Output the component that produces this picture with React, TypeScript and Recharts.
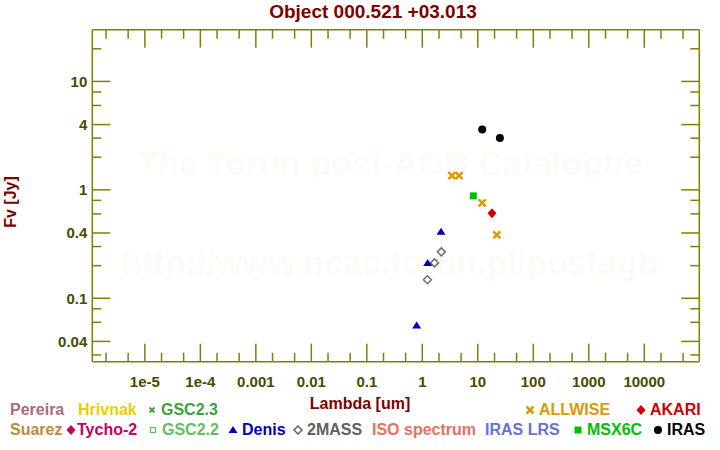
import { ScatterChart, Scatter, XAxis, YAxis } from "recharts"

if (typeof document !== "undefined") document.body.style.margin = "0"

// photometry, lambda in um, flux in Jy
const irasLambda = [12, 25]
const irasFlux = [3.6, 3.0]
const allwiseLambda = [3.4, 4.6, 12, 22]
const allwiseFlux = [1.35, 1.35, 0.76, 0.385]
const msxLambda = [8.3]
const msxFlux = [0.88]
const akariLambda = [18]
const akariFlux = [0.61]
const denisLambda = [0.79, 1.25, 2.17]
const denisFlux = [0.056, 0.212, 0.41]
const twomassLambda = [1.235, 1.66, 2.2]
const twomassFlux = [0.148, 0.212, 0.268]

const xMajor = [1e-5, 1e-4, 0.001, 0.01, 0.1, 1, 10, 100, 1000, 10000]
const xLabels = ["1e-5", "1e-4", "0.001", "0.01", "0.1", "1", "10", "100", "1000", "10000"]
const xMinor = [2e-6, 5e-6, 2e-5, 5e-5, 2e-4, 5e-4, 0.002, 0.005, 0.02, 0.05, 0.2, 0.5, 2, 5, 20, 50, 200, 500, 2000, 5000, 20000, 50000]
const yMajor = [0.04, 0.1, 0.4, 1, 4, 10]
const yLabels = ["0.04", "0.1", "0.4", "1", "4", "10"]
const yMinor = [0.03, 0.06, 0.08, 0.2, 0.3, 0.6, 0.8, 2, 3, 6, 8, 20]

const X_DOMAIN = [1.13e-6, 9.8e4]
const Y_DOMAIN = [0.026, 30]

const OLIVE = "#808000"
const TICK_TEXT = "#4a4a00"
const DARK_RED = "#800000"
const FONT = "'Liberation Sans', Arial, sans-serif"

const zip = (xs: number[], ys: number[]) => xs.map((x, i) => ({ x, y: ys[i] }))

const labelFor = (v: number, majors: number[], labels: string[]) => {
  const i = majors.findIndex((m) => Math.abs(Math.log10(m) - Math.log10(v)) < 1e-6)
  return i >= 0 ? labels[i] : null
}

const makeTick = (side: "bottom" | "top" | "left" | "right") => (props: any) => {
  const { x, y, payload } = props
  const horiz = side === "bottom" || side === "top"
  const label = horiz ? labelFor(payload.value, xMajor, xLabels) : labelFor(payload.value, yMajor, yLabels)
  const len = label ? 18 : 9
  let x2 = x
  let y2 = y
  if (side === "bottom") y2 = y - len
  if (side === "top") y2 = y + len
  if (side === "left") x2 = x + len
  if (side === "right") x2 = x - len
  return (
    <g>
      <line x1={x} y1={y} x2={x2} y2={y2} stroke={OLIVE} strokeWidth={1.5} />
      {label && side === "bottom" && (
        <text x={x} y={y + 25} textAnchor="middle" fill={TICK_TEXT} fontSize={15} fontWeight="bold" fontFamily={FONT}>
          {label}
        </text>
      )}
      {label && side === "left" && (
        <text x={x - 5} y={y + 5.5} textAnchor="end" fill={TICK_TEXT} fontSize={15} fontWeight="bold" fontFamily={FONT}>
          {label}
        </text>
      )}
    </g>
  )
}

const Cross = ({ cx, cy, fill }: any) => (
  <g stroke={fill} strokeWidth={2.5}>
    <line x1={cx - 3.5} y1={cy - 3.5} x2={cx + 3.5} y2={cy + 3.5} />
    <line x1={cx - 3.5} y1={cy + 3.5} x2={cx + 3.5} y2={cy - 3.5} />
  </g>
)
const Dot = ({ cx, cy, fill }: any) => <circle cx={cx} cy={cy} r={4} fill={fill} />
const Square = ({ cx, cy, fill }: any) => <rect x={cx - 3.5} y={cy - 3.5} width={7} height={7} fill={fill} />
const Diamond = ({ cx, cy, fill }: any) => (
  <polygon points={`${cx},${cy - 5} ${cx + 4.5},${cy} ${cx},${cy + 5} ${cx - 4.5},${cy}`} fill={fill} />
)
const OpenDiamond = ({ cx, cy, fill }: any) => (
  <polygon points={`${cx},${cy - 4} ${cx + 4},${cy} ${cx},${cy + 4} ${cx - 4},${cy}`} fill="none" stroke={fill} strokeWidth={1.5} />
)
const Triangle = ({ cx, cy, fill }: any) => (
  <polygon points={`${cx},${cy - 4} ${cx + 4.5},${cy + 3} ${cx - 4.5},${cy + 3}`} fill={fill} />
)
const OpenSquare = ({ cx, cy, fill }: any) => (
  <rect x={cx - 2.5} y={cy - 2.5} width={5} height={5} fill="none" stroke={fill} strokeWidth={1.2} />
)
const SmallCross = ({ cx, cy, fill }: any) => (
  <g stroke={fill} strokeWidth={2}>
    <line x1={cx - 2.5} y1={cy - 2.5} x2={cx + 2.5} y2={cy + 2.5} />
    <line x1={cx - 2.5} y1={cy + 2.5} x2={cx + 2.5} y2={cy - 2.5} />
  </g>
)

const legendRow1 = [
  { text: "Pereira", color: "#b06880", left: 10, mark: null },
  { text: "Hrivnak", color: "#e8d000", left: 78, mark: null },
  { text: "GSC2.3", color: "#40a040", left: 147, mark: SmallCross },
  { text: "ALLWISE", color: "#e09800", left: 525, mark: Cross },
  { text: "AKARI", color: "#d00000", left: 636, mark: Diamond },
]
const legendRow2 = [
  { text: "Suarez", color: "#c08840", left: 10, mark: null },
  { text: "Tycho-2", color: "#c80060", left: 66, mark: Diamond, gap: 1 },
  { text: "GSC2.2", color: "#60c060", left: 148, mark: OpenSquare },
  { text: "Denis", color: "#0000c0", left: 228, mark: Triangle },
  { text: "2MASS", color: "#606060", left: 293, mark: OpenDiamond },
  { text: "ISO spectrum", color: "#e87060", left: 372, mark: null },
  { text: "IRAS LRS", color: "#6870d8", left: 485, mark: null },
  { text: "MSX6C", color: "#00c000", left: 573, mark: Square },
  { text: "IRAS", color: "#000000", left: 653, mark: Dot },
]

const abs = (extra: any) => ({ position: "absolute" as const, fontFamily: FONT, fontWeight: "bold" as const, whiteSpace: "nowrap" as const, ...extra })

const LegendItem = ({ d, top }: any) => {
  const Mark = d.mark
  return (
    <div style={abs({ left: d.left, top, fontSize: 16, color: d.color, display: "flex", alignItems: "center", height: 18 })}>
      {Mark && (
        <svg width={10} height={12} style={{ marginRight: d.gap ?? 4 }}>
          <Mark cx={5} cy={6} fill={d.color} />
        </svg>
      )}
      <span>{d.text}</span>
    </div>
  )
}

export default function App() {
  return (
    <div style={{ position: "relative", width: 720, height: 450, background: "#fff", overflow: "hidden" }}>
      <div style={abs({ left: 0, width: 780, top: 144, textAlign: "center", fontSize: 34, color: "#fdfbf6" })}>
        The Torun post-AGB Catalogue
      </div>
      <div style={abs({ left: 0, width: 780, top: 243, textAlign: "center", fontSize: 34, color: "#fdfbf6" })}>
        http://www.ncac.torun.pl/postagb
      </div>
      <div style={{ position: "absolute", left: 0, top: 0 }}>
        <ScatterChart width={720} height={450} margin={{ top: 28.7, right: 19.7, bottom: 87.3, left: 91.3 }}>
          <XAxis
            xAxisId="b"
            dataKey="x"
            type="number"
            scale="log"
            domain={X_DOMAIN}
            allowDataOverflow
            ticks={[...xMajor, ...xMinor]}
            interval={0}
            height={1}
            tickSize={0}
            tickMargin={0}
            axisLine={{ stroke: OLIVE, strokeWidth: 1.5 }}
            tickLine={false}
            tick={makeTick("bottom")}
          />
          <XAxis
            xAxisId="t"
            orientation="top"
            dataKey="x"
            type="number"
            scale="log"
            domain={X_DOMAIN}
            allowDataOverflow
            ticks={[...xMajor, ...xMinor]}
            interval={0}
            height={1}
            tickSize={0}
            tickMargin={0}
            axisLine={{ stroke: OLIVE, strokeWidth: 1.5 }}
            tickLine={false}
            tick={makeTick("top")}
          />
          <YAxis
            yAxisId="l"
            dataKey="y"
            type="number"
            scale="log"
            domain={Y_DOMAIN}
            allowDataOverflow
            ticks={[...yMajor, ...yMinor]}
            interval={0}
            width={1}
            tickSize={0}
            tickMargin={0}
            axisLine={{ stroke: OLIVE, strokeWidth: 1.5 }}
            tickLine={false}
            tick={makeTick("left")}
          />
          <YAxis
            yAxisId="r"
            orientation="right"
            dataKey="y"
            type="number"
            scale="log"
            domain={Y_DOMAIN}
            allowDataOverflow
            ticks={[...yMajor, ...yMinor]}
            interval={0}
            width={1}
            tickSize={0}
            tickMargin={0}
            axisLine={{ stroke: OLIVE, strokeWidth: 1.5 }}
            tickLine={false}
            tick={makeTick("right")}
          />
          <Scatter xAxisId="b" yAxisId="l" data={zip(twomassLambda, twomassFlux)} fill="#707070" shape={OpenDiamond} isAnimationActive={false} />
          <Scatter xAxisId="b" yAxisId="l" data={zip(denisLambda, denisFlux)} fill="#0000c0" shape={Triangle} isAnimationActive={false} />
          <Scatter xAxisId="b" yAxisId="l" data={zip(msxLambda, msxFlux)} fill="#00c000" shape={Square} isAnimationActive={false} />
          <Scatter xAxisId="b" yAxisId="l" data={zip(akariLambda, akariFlux)} fill="#d00000" shape={Diamond} isAnimationActive={false} />
          <Scatter xAxisId="b" yAxisId="l" data={zip(allwiseLambda, allwiseFlux)} fill="#e09800" shape={Cross} isAnimationActive={false} />
          <Scatter xAxisId="b" yAxisId="l" data={zip(irasLambda, irasFlux)} fill="#000000" shape={Dot} isAnimationActive={false} />
        </ScatterChart>
      </div>
      <div style={abs({ left: 0, width: 746, top: 1, textAlign: "center", fontSize: 19, color: DARK_RED })}>
        Object 000.521 +03.013
      </div>
      <div style={abs({ left: 0, width: 720, top: 395, textAlign: "center", fontSize: 16, color: DARK_RED })}>
        Lambda [um]
      </div>
      <div style={abs({ left: 11, top: 202, fontSize: 16, color: DARK_RED, transform: "translate(-50%, -50%) rotate(-90deg)" })}>
        Fv [Jy]
      </div>
      {legendRow1.map((d) => (
        <LegendItem key={d.text} d={d} top={401} />
      ))}
      {legendRow2.map((d) => (
        <LegendItem key={d.text} d={d} top={421} />
      ))}
    </div>
  )
}
